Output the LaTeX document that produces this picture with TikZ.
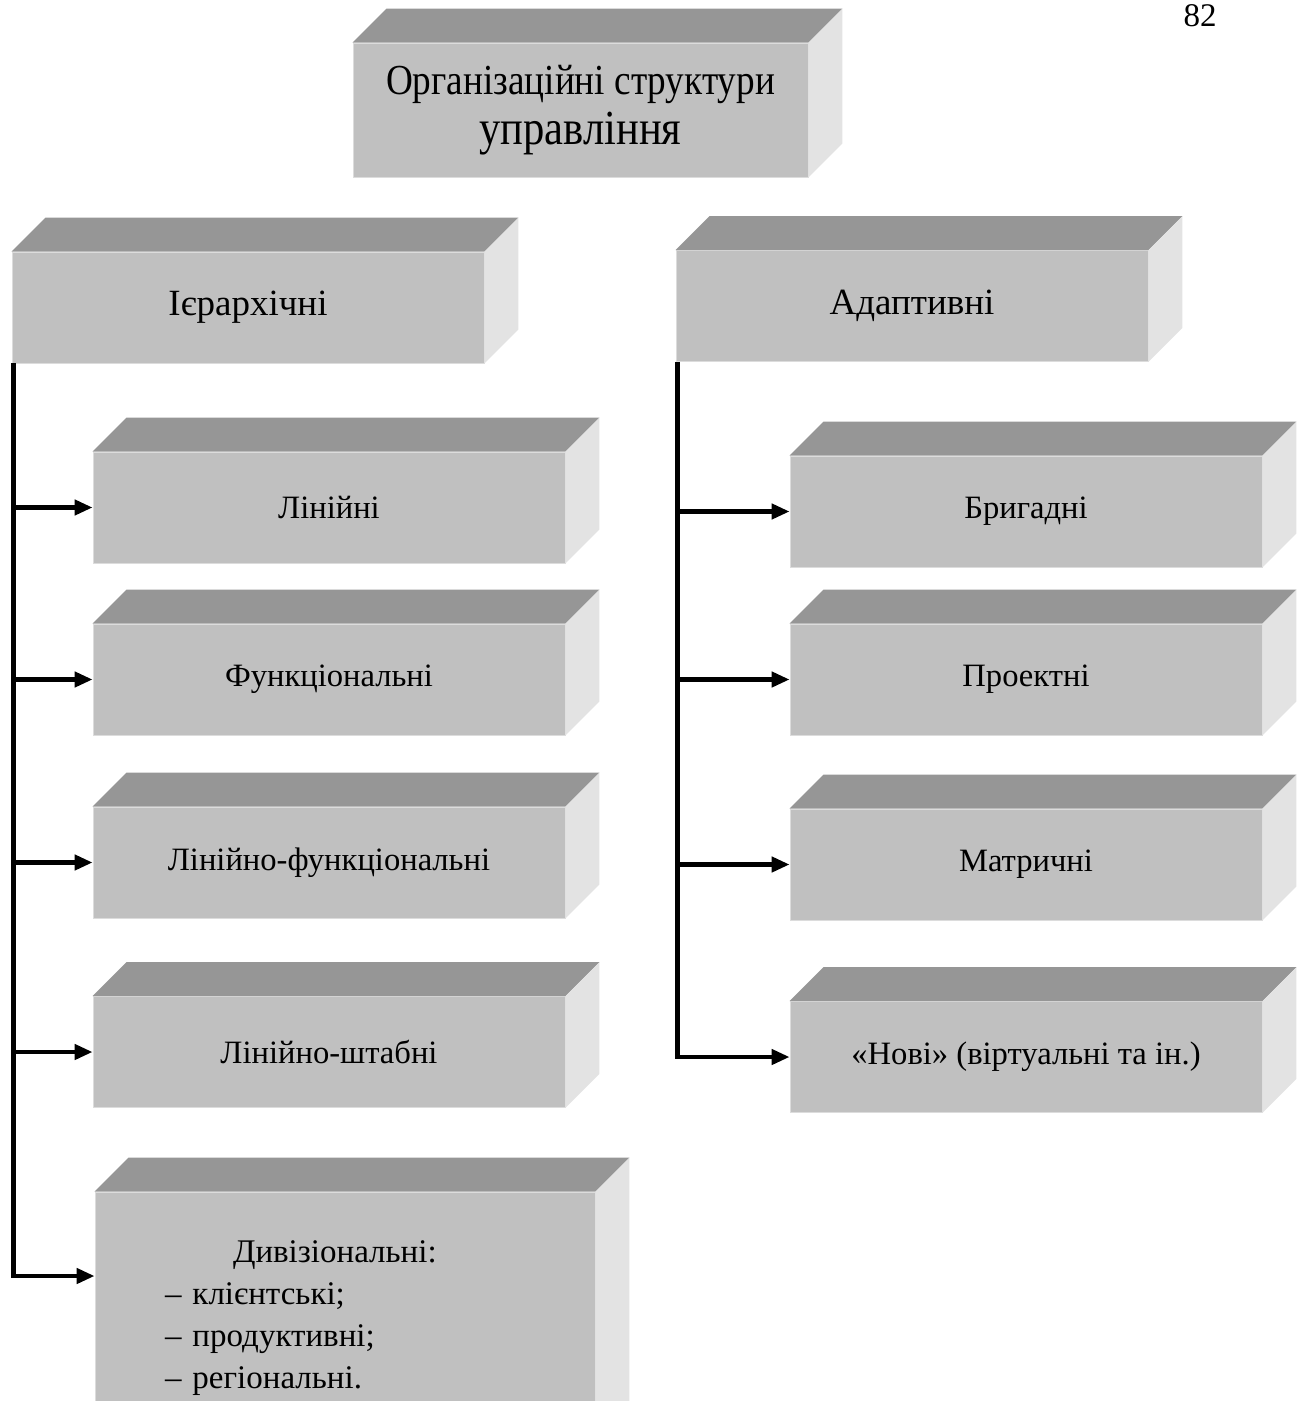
\documentclass[tikz,border=0pt]{standalone}
\usepackage{graphicx}
\usepackage{fontspec}
\setmainfont{Liberation Serif}
\usetikzlibrary{calc,arrows.meta}

\definecolor{frontgray}{HTML}{C0C0C0}
\definecolor{topgray}{HTML}{969696}
\definecolor{sidegray}{HTML}{E3E3E3}

% верхня та бічна грані блока
\newcommand{\grani}[1]{%
  \fill[topgray] (#1.north west) -- ++(34,-34) -- ($(#1.north east)+(34,-34)$) -- (#1.north east) -- cycle;
  \fill[sidegray] (#1.north east) -- ++(34,-34) -- ($(#1.south east)+(34,-34)$) -- (#1.south east) -- cycle;}

\begin{document}
\begin{tikzpicture}[x=0.5pt, y=-0.5pt,
        block/.style={rectangle, fill=frontgray, draw=frontgray!55!white, inner sep=0pt, minimum width=236pt, minimum height=55.5pt, font=\fontsize{16.3}{20}\selectfont},
        head/.style={block, font=\fontsize{18.5}{22}\selectfont},
        flow/.style={line width=2.2pt, -{Triangle[length=9pt,width=7.5pt]}}
        ]
        \useasboundingbox (0,0) rectangle (1305,1401);

        % Номер сторінки
        \node[anchor=north, inner sep=0pt, font=\fontsize{16.5}{20}\selectfont] (page) at (1200,4) {82};

        % Головні блоки
        \node[block, minimum width=227.5pt, minimum height=67pt, align=center, font=\fontsize{18.6}{25}\selectfont] (org) at (580.5,110) {\scalebox{1}[1.15]{Організаційні структури}\\\scalebox{1}[1.15]{\fontsize{21.3}{25}\selectfont управління}};
        \node[head] (hier) at (248,307.5) {Ієрархічні};
        \node[head] (adapt) at (912,306) {Адаптивні};

        % Ієрархічні структури
        \node[block] (lin) at (329,507.5) {Лінійні};
        \node[block] (fun) at (329,679.5) {Функціональні};
        \node[block] (linfun) at (329,862.5) {Лінійно-функціональні};
        \node[block] (linsht) at (329,1052) {Лінійно-штабні};
        \node[block, minimum width=250pt, minimum height=126pt, text width=180pt, align=left, font=\fontsize{16.5}{21}\selectfont] (div) at (345,1318) {\hspace*{34pt}Дивізіональні:\\– клієнтські;\\– продуктивні;\\– регіональні.};

        % Адаптивні структури
        \node[block] (brig) at (1026,511.5) {Бригадні};
        \node[block] (proekt) at (1026,679.5) {Проектні};
        \node[block] (matr) at (1026,864.5) {Матричні};
        \node[block] (novi) at (1026,1057) {«Нові» (віртуальні та ін.)};

        \foreach \n in {org,hier,adapt,lin,fun,linfun,linsht,div,brig,proekt,matr,novi}
            \grani{\n};

        % Зв'язки
        \coordinate (ltrunk) at ([xshift=1pt]hier.south west);
        \coordinate (divin) at (div.west |- 0,1276);
        \draw[flow] (ltrunk) |- (divin);
        \foreach \n in {lin,fun,linfun,linsht}
            \draw[flow] (ltrunk |- \n.west) -- (\n.west);

        \coordinate (rtrunk) at ([xshift=1pt]adapt.south west);
        \draw[flow] (rtrunk) |- (novi.west);
        \foreach \n in {brig,proekt,matr}
            \draw[flow] (rtrunk |- \n.west) -- (\n.west);
\end{tikzpicture}
\end{document}
